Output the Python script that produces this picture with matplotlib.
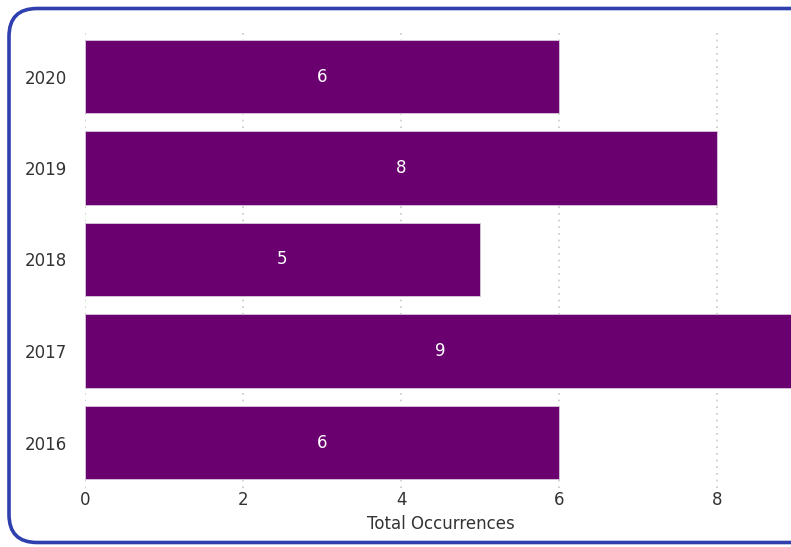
from matplotlib import pyplot
from matplotlib.patches import FancyBboxPatch
import matplotlib.ticker as ticker

# данные
years = ['2016', '2017', '2018', '2019', '2020']
occurrences = [6, 9, 5, 8, 6]

bar_color = '#6a0070'
text_color = '#333333'

fig = pyplot.figure(figsize=(7.91, 5.47), dpi=100)
fig.patch.set_facecolor('white')

# рамка со скруглёнными углами (правый край уходит за пределы картинки)
frame = FancyBboxPatch((0.09, 0.045), 8.2, 5.34,
                       boxstyle='round,pad=0,rounding_size=0.28',
                       transform=fig.dpi_scale_trans, facecolor='none',
                       edgecolor='#2f3fae', linewidth=2.6, zorder=0)
fig.patches.append(frame)

ax = fig.add_axes([85 / 791, 58.75 / 547, 711 / 791, 457.5 / 547])
ax.set_facecolor('none')

pos = range(len(years))
bars = ax.barh(pos, occurrences, height=0.8, color=bar_color,
               edgecolor='#d8c8dc', linewidth=0.6, zorder=2)

for b, v in zip(bars, occurrences):
    ax.text(b.get_width() / 2, b.get_y() + b.get_height() / 2, str(v),
            ha='center', va='center', color='white', fontsize=12, zorder=3)

ax.set_xlim(0, 9)
ax.set_ylim(-0.5, len(years) - 0.5)
ax.set_yticks(list(pos))
ax.set_yticklabels(years)
ax.xaxis.set_major_locator(ticker.MultipleLocator(2))

# сетка точками
ax.grid(axis='x', color='#c8c8c8', linestyle=(0, (1, 3)), linewidth=1.2, zorder=1)
ax.set_axisbelow(True)

for s in ax.spines.values():
    s.set_visible(False)
ax.tick_params(axis='both', length=0, labelsize=12, labelcolor=text_color)
ax.tick_params(axis='y', pad=13)
ax.tick_params(axis='x', pad=2)

ax.set_xlabel('Total Occurrences', fontsize=12, color=text_color, labelpad=4)

fig.savefig('out.png', dpi=100)
